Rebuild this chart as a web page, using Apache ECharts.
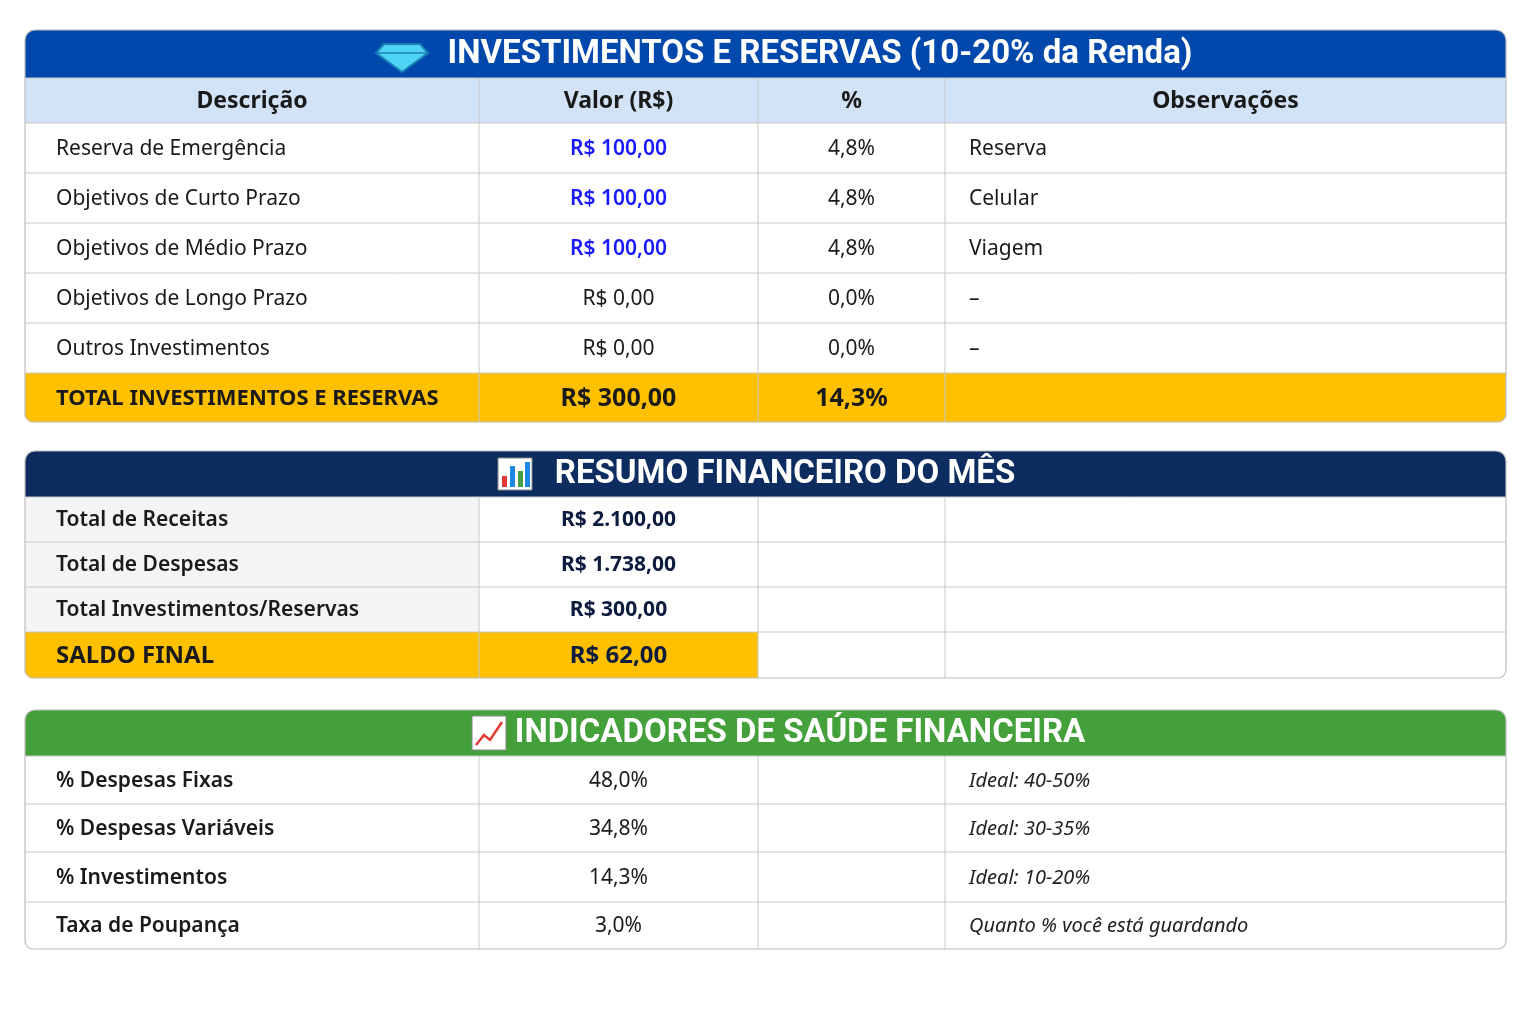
<!DOCTYPE html>
<html>
<head>
<meta charset="utf-8">
<script src="https://cdn.jsdelivr.net/npm/echarts@6/dist/echarts.min.js"></script>
<style>html,body{margin:0;background:#fff}#chart{width:1536px;height:1024px}</style>
</head>
<body>
<div id="chart"></div>
<script>
// dados da tabela
var invTitle = 'INVESTIMENTOS E RESERVAS (10-20% da Renda)';
var invHeaders = ['Descrição', 'Valor (R$)', '%', 'Observações'];
var invDesc = ['Reserva de Emergência', 'Objetivos de Curto Prazo', 'Objetivos de Médio Prazo', 'Objetivos de Longo Prazo', 'Outros Investimentos'];
var invValor = ['R$ 100,00', 'R$ 100,00', 'R$ 100,00', 'R$ 0,00', 'R$ 0,00'];
var invPct = ['4,8%', '4,8%', '4,8%', '0,0%', '0,0%'];
var invObs = ['Reserva', 'Celular', 'Viagem', '–', '–'];
var invTotal = ['TOTAL INVESTIMENTOS E RESERVAS', 'R$ 300,00', '14,3%', ''];

var resTitle = 'RESUMO FINANCEIRO DO MÊS';
var resDesc = ['Total de Receitas', 'Total de Despesas', 'Total Investimentos/Reservas', 'SALDO FINAL'];
var resValor = ['R$ 2.100,00', 'R$ 1.738,00', 'R$ 300,00', 'R$ 62,00'];

var indTitle = 'INDICADORES DE SAÚDE FINANCEIRA';
var indDesc = ['% Despesas Fixas', '% Despesas Variáveis', '% Investimentos', 'Taxa de Poupança'];
var indValor = ['48,0%', '34,8%', '14,3%', '3,0%'];
var indObs = ['Ideal: 40-50%', 'Ideal: 30-35%', 'Ideal: 10-20%', 'Quanto % você está guardando'];

var colX = [25, 479, 758, 945, 1506];
var FONT = '"Noto Sans", sans-serif';
var els = [];

function rect(x, y, w, h, fill, r) {
  els.push({type: 'rect', shape: {x: x, y: y, width: w, height: h, r: r || 0}, style: {fill: fill}, silent: true});
}
function line(x1, y1, x2, y2) {
  els.push({type: 'line', shape: {x1: x1, y1: y1, x2: x2, y2: y2}, style: {stroke: '#c8c8c8', lineWidth: 1}, silent: true});
}
function txt(s, x, y, o) {
  o = o || {};
  els.push({type: 'text', x: x, y: y, style: {text: s, fill: o.color || '#1a1a1a', font: (o.style || '') + ' ' + (o.weight || 'normal') + ' ' + (o.size || 21) + 'px ' + (o.family || FONT), align: o.align || 'left', verticalAlign: 'middle'}, silent: true});
}
function cellText(s, col, y, align, o) {
  var x = align === 'center' ? (colX[col] + colX[col + 1]) / 2 : colX[col] + (col === 0 ? 31 : 24);
  o = o || {}; o.align = align;
  txt(s, x, y, o);
}
function header(y, h, color, title) {
  rect(colX[0], y, colX[4] - colX[0], h, color, [10, 10, 0, 0]);
  txt(title, 820, y + h / 2 + 1, {color: '#fff', weight: 'bold', size: 33, family: 'Roboto, sans-serif', align: 'center'});
}
function frame(y1, y2, rows) {
  els.push({type: 'rect', shape: {x: colX[0], y: y1, width: colX[4] - colX[0], height: y2 - y1, r: [10, 10, 8, 8]}, style: {fill: 'none', stroke: '#bdbdbd', lineWidth: 1.2}, silent: true, z: 10});
  rows.forEach(function (ry) { line(colX[0], ry, colX[4], ry); });
}

// seção 1
var y0 = 78, hh = 45, rh = 50;
rect(colX[0], y0, colX[4] - colX[0], hh, '#d3e3f7');
invHeaders.forEach(function (h, i) { cellText(h, i, y0 + hh / 2 + 1, 'center', {weight: 'bold', size: 23}); });
var rowsY = [y0, y0 + hh];
invDesc.forEach(function (d, i) {
  var cy = y0 + hh + i * rh + rh / 2 + 1;
  var blue = invValor[i] !== 'R$ 0,00';
  cellText(d, 0, cy, 'left');
  cellText(invValor[i], 1, cy, 'center', blue ? {color: '#1a1aff', weight: '600'} : {});
  cellText(invPct[i], 2, cy, 'center');
  cellText(invObs[i], 3, cy, 'left');
  rowsY.push(y0 + hh + (i + 1) * rh);
});
var ty = y0 + hh + 5 * rh;
rect(colX[0], ty, colX[4] - colX[0], 49, '#ffc000', [0, 0, 8, 8]);
cellText(invTotal[0], 0, ty + 26, 'left', {weight: 'bold', size: 22});
cellText(invTotal[1], 1, ty + 26, 'center', {weight: 'bold', size: 25});
cellText(invTotal[2], 2, ty + 26, 'center', {weight: 'bold', size: 25});
header(30, 48, '#0048ab', '');
txt(invTitle, 820, 55, {color: '#fff', weight: 'bold', size: 33, family: 'Roboto, sans-serif', align: 'center'});
frame(30, 422, rowsY);
// ícone diamante
els.push({type: 'polygon', shape: {points: [[384, 44], [420, 44], [428, 53], [402, 72], [376, 53]]}, style: {fill: '#4fd3f5', stroke: '#1a7fb5', lineWidth: 2}, silent: true});
els.push({type: 'polyline', shape: {points: [[376, 53], [428, 53]]}, style: {stroke: '#1a7fb5', lineWidth: 1.5}, silent: true});

// seção 2
header(451, 46, '#0d2c5f', '');
txt(resTitle, 785, 475, {color: '#fff', weight: 'bold', size: 33, family: 'Roboto, sans-serif', align: 'center'});
var r2 = [497, 542, 587, 632, 678];
resDesc.forEach(function (d, i) {
  var last = i === resDesc.length - 1;
  rect(colX[0], r2[i], colX[1] - colX[0], r2[i + 1] - r2[i], last ? '#ffc000' : '#f4f4f4', last ? [0, 0, 0, 8] : 0);
  if (last) rect(colX[1], r2[i], colX[2] - colX[1], r2[i + 1] - r2[i], '#ffc000');
  var cy = (r2[i] + r2[i + 1]) / 2 + 1;
  cellText(d, 0, cy, 'left', {weight: last ? 'bold' : '600', size: last ? 24 : 21});
  cellText(resValor[i], 1, cy, 'center', {weight: 'bold', color: '#0d1b3e', size: last ? 24 : 21});
});
frame(451, 678, r2.slice(0, 4));
// ícone gráfico de barras
rect(498, 458, 34, 32, '#fff');
els.push({type: 'rect', shape: {x: 498, y: 458, width: 34, height: 32}, style: {fill: 'none', stroke: '#888', lineWidth: 1}, silent: true});
[['#e53935', 502, 476], ['#1e88e5', 510, 466], ['#43a047', 518, 471], ['#1e88e5', 525, 462]].forEach(function (b) {
  rect(b[1], b[2], 5, 487 - b[2], b[0]);
});

// seção 3
header(710, 46, '#44a03b', '');
txt(indTitle, 800, 734, {color: '#fff', weight: 'bold', size: 33, family: 'Roboto, sans-serif', align: 'center'});
var r3 = [756, 804, 852, 902, 949];
indDesc.forEach(function (d, i) {
  var cy = (r3[i] + r3[i + 1]) / 2 + 1;
  cellText(d, 0, cy, 'left', {weight: '600'});
  cellText(indValor[i], 1, cy, 'center');
  cellText(indObs[i], 3, cy, 'left', {style: 'italic', size: 20, color: '#222'});
});
frame(710, 949, r3.slice(0, 4));
// ícone gráfico de linha
rect(472, 716, 34, 34, '#fff');
els.push({type: 'rect', shape: {x: 472, y: 716, width: 34, height: 34}, style: {fill: 'none', stroke: '#888', lineWidth: 1}, silent: true});
els.push({type: 'polyline', shape: {points: [[476, 745], [484, 735], [490, 740], [502, 722]]}, style: {stroke: '#e53935', lineWidth: 2.5}, silent: true});

// linhas verticais
[[78, 422], [497, 678], [756, 949]].forEach(function (s) {
  for (var c = 1; c < 4; c++) line(colX[c], s[0], colX[c], s[1]);
});

var chart = echarts.init(document.getElementById('chart'));
chart.setOption({backgroundColor: '#fff', graphic: {elements: els}});
</script>
</body>
</html>
